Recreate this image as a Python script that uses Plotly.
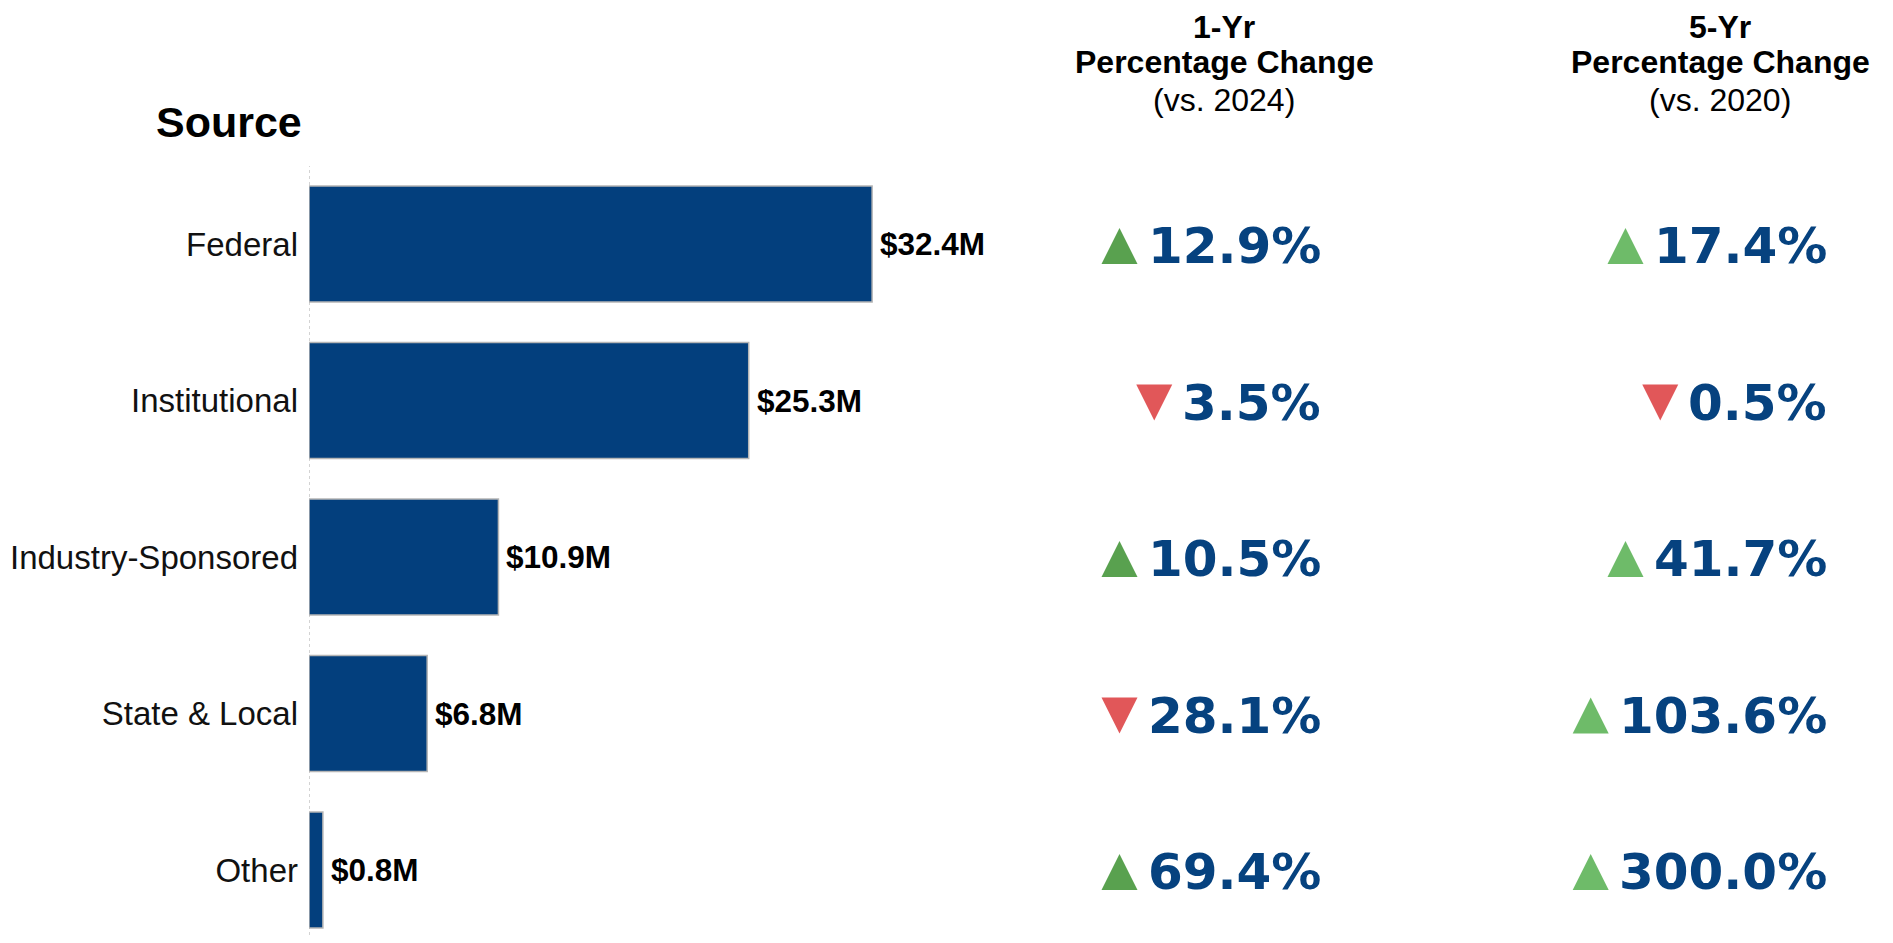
import plotly.graph_objects as go

# ---------------- data ----------------
categories = ["Federal", "Institutional", "Industry-Sponsored", "State & Local", "Other"]
amounts = [32.4, 25.3, 10.9, 6.8, 0.8]          # $M
change_1yr = [12.9, -3.5, 10.5, -28.1, 69.4]    # % vs. 2024
change_5yr = [17.4, -0.5, 41.7, 103.6, 300.0]   # % vs. 2020
header_1yr = ["1-Yr", "Percentage Change", "(vs. 2024)"]
header_5yr = ["5-Yr", "Percentage Change", "(vs. 2020)"]
title_text = "Source"

# ---------------- styling / layout ----------------
W, H = 1877, 927          # figure size (body has 8px default margin)
OFF = 8


def px(x):
    return (x - OFF) / W


def py(y):
    return 1 - (y - OFF) / H


BLUE = "#033F7D"
TXT_BLUE = "#06427F"
GREEN_DARK = "#59A14F"
GREEN_LIGHT = "#6EBB69"
RED = "#E15759"

ZERO_X = 309
PX_PER_UNIT = 17.38
XMAX = 40
ROW0 = 244
ROW_STEP = 156.5
PLOT_TOP = 166
PLOT_BOTTOM = OFF + H

PCT_FONT = 50
# DejaVu Sans Bold advance widths (em)
ADV = {d: 1425 / 2048 for d in "0123456789"}
ADV["."] = 780 / 2048
ADV["%"] = 2052 / 2048


def text_width(s, size):
    return sum(ADV.get(c, 0.7) for c in s) * size


idx = list(range(len(categories)))

fig = go.Figure()
fig.add_trace(go.Bar(
    x=amounts, y=idx, orientation="h", width=0.74,
    marker=dict(color=BLUE, line=dict(color="#B5B5B5", width=1.5)),
    hoverinfo="skip", showlegend=False,
))

annotations = []
shapes = []

# value labels
for i, v in zip(idx, amounts):
    annotations.append(dict(
        x=v, y=i, xref="x", yref="y", text=f"${v:.1f}M", showarrow=False,
        xanchor="left", yanchor="middle", xshift=6,
        font=dict(family="Liberation Sans, Arial", size=31.5, color="#000000", weight="bold"),
    ))

# title
annotations.append(dict(
    x=px(154), y=py(122), xref="paper", yref="paper", text=title_text, showarrow=False,
    xanchor="left", yanchor="middle",
    font=dict(family="Liberation Sans, Arial", size=43, color="#000000", weight="bold"),
))

# headers
for cx, lines in ((1224, header_1yr), (1720, header_5yr)):
    for j, line in enumerate(lines):
        font = dict(family="Liberation Sans, Arial", size=32, color="#000000",
                    weight="bold" if j < 2 else "normal")
        if j == 0:
            annotations.append(dict(
                x=px(cx), y=1, xref="paper", yref="paper", text=line, showarrow=False,
                xanchor="center", yanchor="top", borderpad=0, font=font,
            ))
        else:
            annotations.append(dict(
                x=px(cx), y=py((62, 99.5)[j - 1]), xref="paper", yref="paper", text=line,
                showarrow=False, xanchor="center", yanchor="middle", borderpad=0, font=font,
            ))

# percentage change columns
for right_x, changes, up_color in ((1321, change_1yr, GREEN_DARK), (1827, change_5yr, GREEN_LIGHT)):
    for i, c in zip(idx, changes):
        label = f"{abs(c):.1f}%"
        annotations.append(dict(
            x=px(right_x), y=i, xref="paper", yref="y", text=label, showarrow=False,
            xanchor="right", yanchor="middle", yshift=-2, borderpad=0, borderwidth=0,
            font=dict(family="DejaVu Sans", size=PCT_FONT, color=TXT_BLUE, weight="bold"),
        ))
        tw = text_width(label, PCT_FONT)
        cxo = -(tw + 10 + 18)
        hw, hh, dy = 18, 18, -2
        if c >= 0:
            path = (f"M {cxo - hw},{dy - hh} L {cxo + hw},{dy - hh} L {cxo},{dy + hh} Z")
            col = up_color
        else:
            path = (f"M {cxo - hw},{dy + hh} L {cxo + hw},{dy + hh} L {cxo},{dy - hh} Z")
            col = RED
        shapes.append(dict(
            type="path", xref="paper", yref="y", xsizemode="pixel", ysizemode="pixel",
            xanchor=px(right_x), yanchor=i, path=path,
            fillcolor=col, line=dict(width=0),
        ))

# dashed zero axis line
shapes.append(dict(
    type="line", xref="x", yref="paper", x0=0, x1=0, y0=0, y1=py(PLOT_TOP),
    line=dict(color="#A8A8A8", width=1, dash="3px,3px"), layer="below",
))

y_top = (PLOT_TOP - ROW0) / ROW_STEP
y_bot = (PLOT_BOTTOM - ROW0) / ROW_STEP

fig.update_layout(
    width=W, height=H,
    margin=dict(l=0, r=0, t=0, b=0),
    paper_bgcolor="white", plot_bgcolor="white",
    xaxis=dict(domain=[px(ZERO_X), px(ZERO_X + PX_PER_UNIT * XMAX)], range=[0, XMAX],
               showgrid=False, zeroline=False, showticklabels=False, showline=False, ticks=""),
    yaxis=dict(domain=[0, py(PLOT_TOP)], range=[y_bot, y_top],
               tickvals=idx, ticktext=categories, ticks="", showgrid=False, zeroline=False,
               showline=False, ticklabelstandoff=10,
               tickfont=dict(family="Liberation Sans, Arial", size=33, color="#111111")),
    annotations=annotations,
    shapes=shapes,
    showlegend=False,
)

fig.write_html("out.html")
